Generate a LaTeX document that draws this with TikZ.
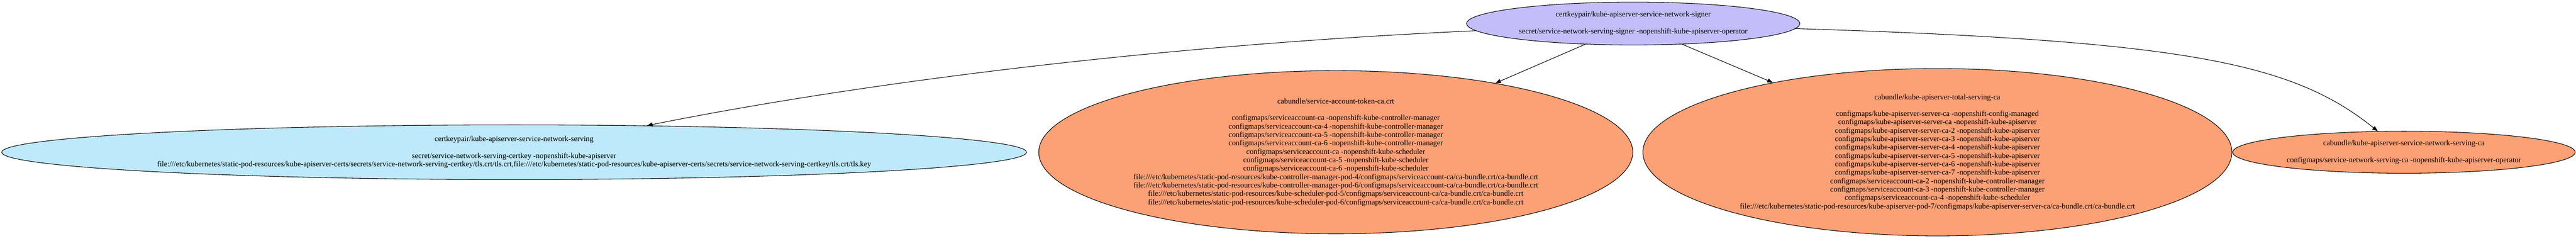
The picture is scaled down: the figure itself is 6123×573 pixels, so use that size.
\documentclass[tikz,border=0pt]{standalone}
\usepackage{fontspec}
\setmainfont{Liberation Serif}
\usepackage{tikz}
\usetikzlibrary{arrows.meta,shapes.geometric}

\definecolor{signerfill}{RGB}{195,190,250}
\definecolor{servingfill}{RGB}{190,233,251}
\definecolor{bundlefill}{RGB}{252,160,118}

\tikzset{
  certnode/.style={ellipse, draw=black, line width=1.3pt, inner sep=0pt,
    align=center, font=\fontsize{18.2}{20}\selectfont},
  edge/.style={line width=1.3pt, -{Triangle[length=13pt,width=10pt]}}
}

\begin{document}
\begin{tikzpicture}[x=1pt,y=1pt]
      \useasboundingbox (0,0) rectangle (6123,573);
      \node[certnode, fill=signerfill, minimum width=792pt, minimum height=102pt] (signer) at (3882,517)
        {certkeypair/kube-apiserver-service-network-signer\\[20pt]
         secret/service-network-serving-signer -nopenshift-kube-apiserver-operator};
      \node[certnode, fill=servingfill, minimum width=2436pt, minimum height=130pt] (serving) at (1222,211)
        {certkeypair/kube-apiserver-service-network-serving\\[20pt]
         secret/service-network-serving-certkey -nopenshift-kube-apiserver\\
         file:///etc/kubernetes/static-pod-resources/kube-apiserver-certs/secrets/service-network-serving-certkey/tls.crt/tls.crt,file:///etc/kubernetes/static-pod-resources/kube-apiserver-certs/secrets/service-network-serving-certkey/tls.crt/tls.key};
      \node[certnode, fill=bundlefill, minimum width=1412pt, minimum height=388pt] (tokenca) at (3175,211)
        {cabundle/service-account-token-ca.crt\\[20pt]
         configmaps/serviceaccount-ca -nopenshift-kube-controller-manager\\
         configmaps/serviceaccount-ca-4 -nopenshift-kube-controller-manager\\
         configmaps/serviceaccount-ca-5 -nopenshift-kube-controller-manager\\
         configmaps/serviceaccount-ca-6 -nopenshift-kube-controller-manager\\
         configmaps/serviceaccount-ca -nopenshift-kube-scheduler\\
         configmaps/serviceaccount-ca-5 -nopenshift-kube-scheduler\\
         configmaps/serviceaccount-ca-6 -nopenshift-kube-scheduler\\
         file:///etc/kubernetes/static-pod-resources/kube-controller-manager-pod-4/configmaps/serviceaccount-ca/ca-bundle.crt/ca-bundle.crt\\
         file:///etc/kubernetes/static-pod-resources/kube-controller-manager-pod-6/configmaps/serviceaccount-ca/ca-bundle.crt/ca-bundle.crt\\
         file:///etc/kubernetes/static-pod-resources/kube-scheduler-pod-5/configmaps/serviceaccount-ca/ca-bundle.crt/ca-bundle.crt\\
         file:///etc/kubernetes/static-pod-resources/kube-scheduler-pod-6/configmaps/serviceaccount-ca/ca-bundle.crt/ca-bundle.crt};
      \node[certnode, fill=bundlefill, minimum width=1400pt, minimum height=398pt] (totalca) at (4605,211)
        {cabundle/kube-apiserver-total-serving-ca\\[20pt]
         configmaps/kube-apiserver-server-ca -nopenshift-config-managed\\
         configmaps/kube-apiserver-server-ca -nopenshift-kube-apiserver\\
         configmaps/kube-apiserver-server-ca-2 -nopenshift-kube-apiserver\\
         configmaps/kube-apiserver-server-ca-3 -nopenshift-kube-apiserver\\
         configmaps/kube-apiserver-server-ca-4 -nopenshift-kube-apiserver\\
         configmaps/kube-apiserver-server-ca-5 -nopenshift-kube-apiserver\\
         configmaps/kube-apiserver-server-ca-6 -nopenshift-kube-apiserver\\
         configmaps/kube-apiserver-server-ca-7 -nopenshift-kube-apiserver\\
         configmaps/serviceaccount-ca-2 -nopenshift-kube-controller-manager\\
         configmaps/serviceaccount-ca-3 -nopenshift-kube-controller-manager\\
         configmaps/serviceaccount-ca-4 -nopenshift-kube-scheduler\\
         file:///etc/kubernetes/static-pod-resources/kube-apiserver-pod-7/configmaps/kube-apiserver-server-ca/ca-bundle.crt/ca-bundle.crt};
      \node[certnode, fill=bundlefill, minimum width=814pt, minimum height=100pt] (networkca) at (5714,211)
        {cabundle/kube-apiserver-service-network-serving-ca\\[20pt]
         configmaps/service-network-serving-ca -nopenshift-kube-apiserver-operator};
      \foreach \target in {tokenca,totalca} {
        \draw[edge] (signer) -- (\target);
      }
      \draw[edge] (signer) .. controls (2700,463) and (2000,367) .. (serving);
      \draw[edge] (signer) .. controls (5200,476) and (5450,423) .. (networkca);
    \end{tikzpicture}
\end{document}
